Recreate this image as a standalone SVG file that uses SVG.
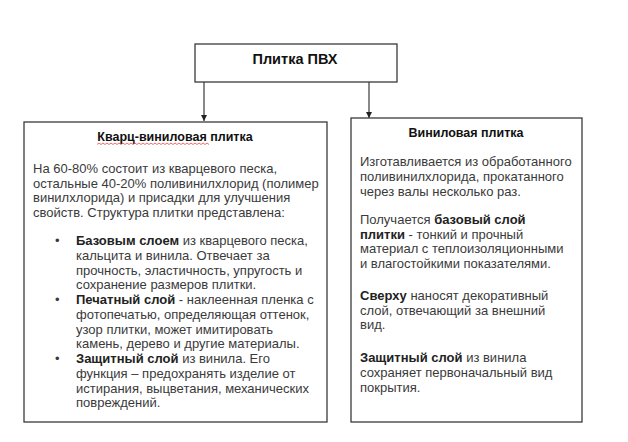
<svg xmlns="http://www.w3.org/2000/svg" width="628" height="442" viewBox="0 0 628 442">
<defs>
<style>
.box{fill:#fff;stroke:#3a3a3a;stroke-width:1.3}
.t{font-family:"Liberation Sans",Arial,sans-serif;font-size:13px;fill:#3a3a3a}
.h{font-family:"Liberation Sans",Arial,sans-serif;font-size:12.5px;font-weight:bold;fill:#111}
.b{font-weight:bold;fill:#222}
.conn{stroke:#3a3a3a;stroke-width:1.2;fill:none}
</style>
<marker id="arr" viewBox="0 0 10 10" refX="10" refY="5" markerWidth="6" markerHeight="7" markerUnits="userSpaceOnUse" orient="auto">
<path d="M0,0 L10,5 L0,10 z" fill="#222"/>
</marker>
</defs>
<rect width="628" height="442" fill="#fff"/>
<g id="connectors">
<line class="conn" x1="204" y1="82" x2="204" y2="121" marker-end="url(#arr)"/>
<line class="conn" x1="369" y1="82" x2="369" y2="118" marker-end="url(#arr)"/>
</g>
<g id="root">
<rect class="box" x="195" y="44" width="202" height="38"/>
<text class="h" x="295" y="63.5" text-anchor="middle" style="font-size:14.5px">Плитка ПВХ</text>
</g>
<g id="quartz">
<rect class="box" x="24" y="122" width="303" height="300"/>
<text class="h" x="175" y="141" text-anchor="middle">Кварц-виниловая плитка</text>
<path d="M97,144.5 l2,-1.5 l2,1.5 l2,-1.5 l2,1.5 l2,-1.5 l2,1.5 l2,-1.5 l2,1.5 l2,-1.5 l2,1.5 l2,-1.5 l2,1.5 l2,-1.5 l2,1.5 l2,-1.5 l2,1.5 l2,-1.5 l2,1.5 l2,-1.5 l2,1.5 l2,-1.5 l2,1.5 l2,-1.5 l2,1.5 l2,-1.5 l2,1.5 l2,-1.5 l2,1.5 l2,-1.5 l2,1.5 l2,-1.5 l2,1.5 l2,-1.5 l2,1.5 l2,-1.5 l2,1.5 l2,-1.5 l2,1.5 l2,-1.5 l2,1.5 l2,-1.5 l2,1.5 l2,-1.5 l2,1.5 l2,-1.5 l2,1.5 l2,-1.5 l2,1.5 l2,-1.5 l2,1.5 l2,-1.5 l2,1.5 l2,-1.5 l2,1.5 l2,-1.5 l2,1.5" fill="none" stroke="#e03030" stroke-width="0.7"/>
<text class="t" x="33" y="173">На 60-80% состоит из кварцевого песка,</text>
<text class="t" x="33" y="187.5">остальные 40-20% поливинилхлорид (полимер</text>
<text class="t" x="33" y="202">винилхлорида) и присадки для улучшения</text>
<text class="t" x="33" y="216.5">свойств. Структура плитки представлена:</text>
<text class="t" x="55" y="245">•</text>
<text class="t" x="76" y="245"><tspan class="b">Базовым слоем</tspan> из кварцевого песка,</text>
<text class="t" x="76" y="259.7">кальцита и винила. Отвечает за</text>
<text class="t" x="76" y="274.5">прочность, эластичность, упругость и</text>
<text class="t" x="76" y="289">сохранение размеров плитки.</text>
<text class="t" x="55" y="304">•</text>
<text class="t" x="76" y="304"><tspan class="b">Печатный слой</tspan> - наклеенная пленка с</text>
<text class="t" x="76" y="319">фотопечатью, определяющая оттенок,</text>
<text class="t" x="76" y="333.5">узор плитки, может имитировать</text>
<text class="t" x="76" y="348">камень, дерево и другие материалы.</text>
<text class="t" x="55" y="363">•</text>
<text class="t" x="76" y="363"><tspan class="b">Защитный слой</tspan> из винила. Его</text>
<text class="t" x="76" y="378">функция – предохранять изделие от</text>
<text class="t" x="76" y="392.5">истирания, выцветания, механических</text>
<text class="t" x="76" y="407">повреждений.</text>
</g>
<g id="vinyl">
<rect class="box" x="351" y="118" width="231" height="304"/>
<text class="h" x="466" y="137" text-anchor="middle">Виниловая плитка</text>
<text class="t" x="360" y="166">Изготавливается из обработанного</text>
<text class="t" x="360" y="180.7">поливинилхлорида, прокатанного</text>
<text class="t" x="360" y="195.5">через валы несколько раз.</text>
<text class="t" x="360" y="224"><tspan>Получается </tspan><tspan class="b">базовый слой</tspan></text>
<text class="t" x="360" y="238.7"><tspan class="b">плитки</tspan> - тонкий и прочный</text>
<text class="t" x="360" y="253.4">материал с теплоизоляционными</text>
<text class="t" x="360" y="268">и влагостойкими показателями.</text>
<text class="t" x="360" y="300"><tspan class="b">Сверху</tspan> наносят декоративный</text>
<text class="t" x="360" y="314.7">слой, отвечающий за внешний</text>
<text class="t" x="360" y="329.4">вид.</text>
<text class="t" x="360" y="362"><tspan class="b">Защитный слой</tspan> из винила</text>
<text class="t" x="360" y="377">сохраняет первоначальный вид</text>
<text class="t" x="360" y="392">покрытия.</text>
</g>
</svg>
